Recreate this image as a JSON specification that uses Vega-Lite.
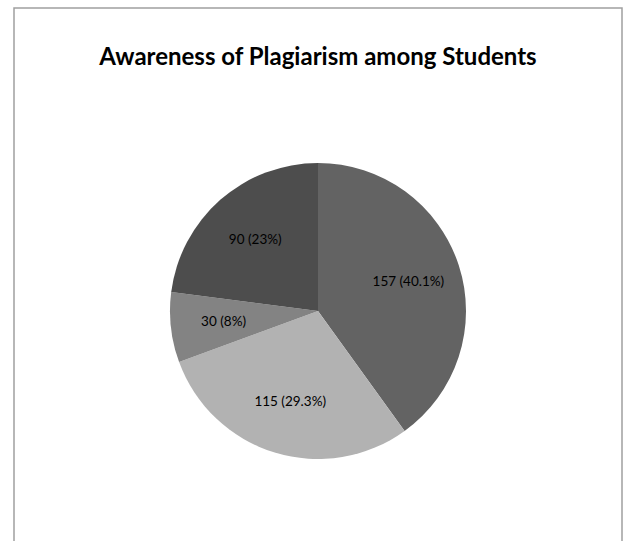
{
  "$schema": "https://vega.github.io/schema/vega-lite/v6.json",
  "autosize": {"type": "none"},
  "width": 608,
  "height": 606,
  "padding": {"left": 14, "top": 8, "right": 2, "bottom": 0},
  "background": "white",
  "view": {"stroke": "#a0a0a0", "strokeWidth": 1.5, "fill": "white"},
  "title": {
    "text": "Awareness of  Plagiarism among Students",
    "font": "Lato",
    "fontSize": 24,
    "fontWeight": "bold",
    "color": "#000000",
    "anchor": "middle",
    "frame": "group",
    "baseline": "alphabetic",
    "offset": -81
  },
  "data": {
    "values": [
      {"category": "A", "count": 157, "label": "157 (40.1%)", "order": 1},
      {"category": "B", "count": 115, "label": "115 (29.3%)", "order": 2},
      {"category": "C", "count": 30, "label": "30 (8%)", "order": 3},
      {"category": "D", "count": 90, "label": "90 (23%)", "order": 4}
    ]
  },
  "encoding": {
    "theta": {"field": "count", "type": "quantitative", "stack": true},
    "order": {"field": "order", "type": "quantitative"}
  },
  "layer": [
    {
      "mark": {"type": "arc", "outerRadius": 148},
      "encoding": {
        "color": {
          "field": "category",
          "type": "nominal",
          "scale": {"domain": ["A", "B", "C", "D"], "range": ["#636363", "#b2b2b2", "#838383", "#4d4d4d"]},
          "legend": null
        }
      }
    },
    {
      "mark": {"type": "text", "radius": 95, "font": "Lato", "fontSize": 13.5, "color": "#000000"},
      "encoding": {"text": {"field": "label", "type": "nominal"}}
    }
  ]
}
